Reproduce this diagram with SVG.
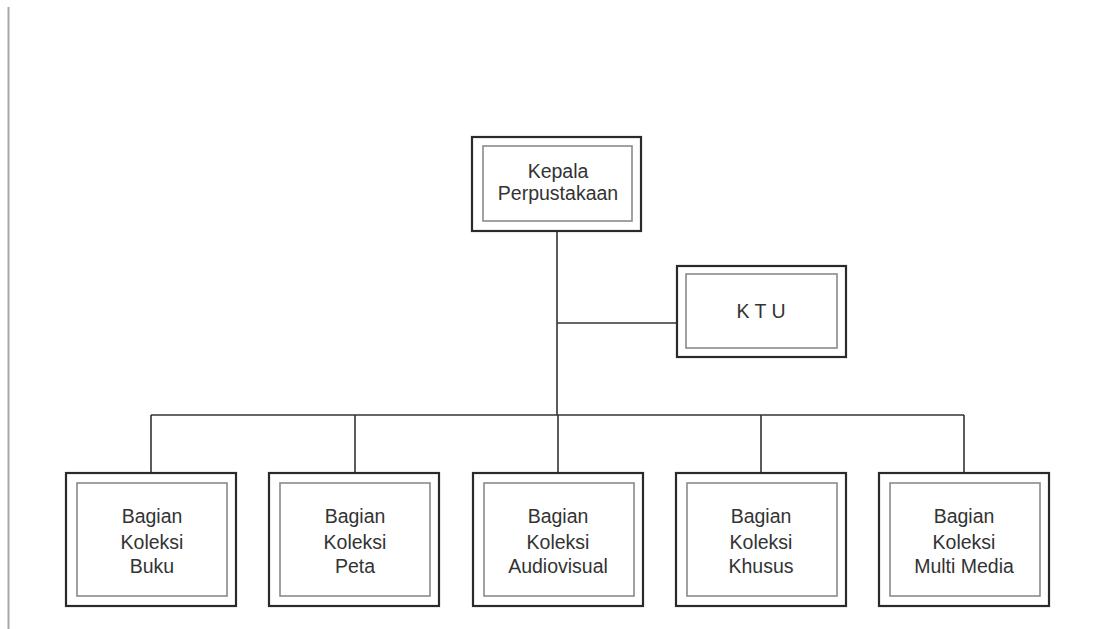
<svg xmlns="http://www.w3.org/2000/svg" width="1096" height="629" viewBox="0 0 1096 629">
<style>
.outer{fill:#fff;stroke:#2a2a2a;stroke-width:2.2}
.inner{fill:none;stroke:#8a8a8a;stroke-width:1.6}
.t{font-family:"Liberation Sans",Arial,sans-serif;font-size:19.5px;fill:#333;text-anchor:middle}
.c{fill:none;stroke:#333;stroke-width:1.6}
</style>
<rect width="1096" height="629" fill="#fff"/>
<line x1="8.5" y1="7" x2="8.5" y2="629" stroke="#a8a8a8" stroke-width="2"/>
<g id="connectors">
<line class="c" x1="557" y1="231" x2="557" y2="415"/>
<line class="c" x1="557" y1="323" x2="677" y2="323"/>
<line class="c" x1="151" y1="415" x2="964" y2="415"/>
<line class="c" x1="151" y1="415" x2="151" y2="473"/>
<line class="c" x1="355" y1="415" x2="355" y2="473"/>
<line class="c" x1="558" y1="415" x2="558" y2="473"/>
<line class="c" x1="761" y1="415" x2="761" y2="473"/>
<line class="c" x1="964" y1="415" x2="964" y2="473" stroke="#888"/>
</g>
<g id="kepala">
<rect class="outer" x="472" y="137" width="169" height="94"/>
<rect class="inner" x="483" y="146" width="149" height="75"/>
<text class="t" x="558" y="178">Kepala</text>
<text class="t" x="558" y="200">Perpustakaan</text>
</g>
<g id="ktu">
<rect class="outer" x="677" y="266" width="169" height="91"/>
<rect class="inner" x="686" y="274" width="151" height="74"/>
<text class="t" x="761" y="318">K T U</text>
</g>
<g id="buku">
<rect class="outer" x="66" y="473" width="170" height="133"/>
<rect class="inner" x="77" y="483" width="150" height="113"/>
<text class="t" x="152" y="523">Bagian</text>
<text class="t" x="152" y="549">Koleksi</text>
<text class="t" x="152" y="573">Buku</text>
</g>
<g id="peta">
<rect class="outer" x="269" y="473" width="170" height="133"/>
<rect class="inner" x="280" y="483" width="150" height="113"/>
<text class="t" x="355" y="523">Bagian</text>
<text class="t" x="355" y="549">Koleksi</text>
<text class="t" x="355" y="573">Peta</text>
</g>
<g id="audiovisual">
<rect class="outer" x="473" y="473" width="170" height="133"/>
<rect class="inner" x="484" y="483" width="150" height="113"/>
<text class="t" x="558" y="523">Bagian</text>
<text class="t" x="558" y="549">Koleksi</text>
<text class="t" x="558" y="573">Audiovisual</text>
</g>
<g id="khusus">
<rect class="outer" x="676" y="473" width="170" height="133"/>
<rect class="inner" x="687" y="483" width="150" height="113"/>
<text class="t" x="761" y="523">Bagian</text>
<text class="t" x="761" y="549">Koleksi</text>
<text class="t" x="761" y="573">Khusus</text>
</g>
<g id="multimedia">
<rect class="outer" x="879" y="473" width="170" height="133"/>
<rect class="inner" x="890" y="483" width="150" height="113"/>
<text class="t" x="964" y="523">Bagian</text>
<text class="t" x="964" y="549">Koleksi</text>
<text class="t" x="964" y="573">Multi Media</text>
</g>
</svg>
